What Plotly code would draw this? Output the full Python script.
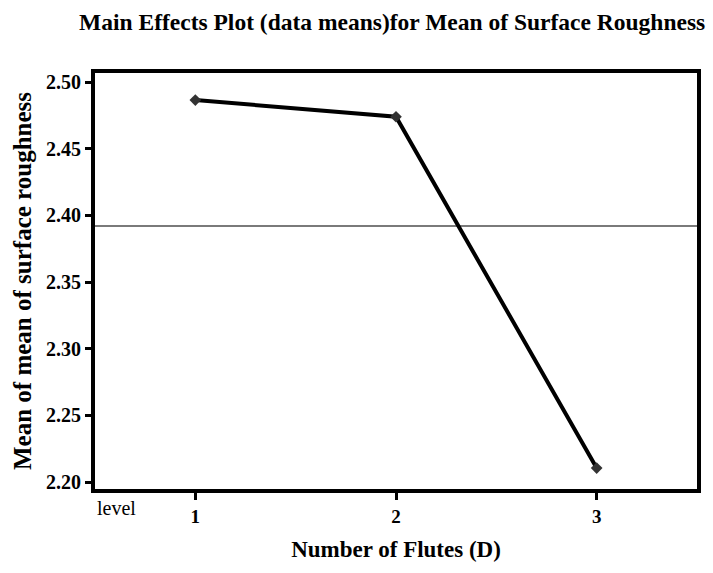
import plotly.graph_objects as go

levels = [1, 2, 3]
means = [2.4865, 2.474, 2.2105]
grand_mean = 2.392
y_ticks = [2.20, 2.25, 2.30, 2.35, 2.40, 2.45, 2.50]
x_tick_labels = ["1", "2", "3"]

title_text = "Main Effects Plot (data means)for Mean of Surface Roughness"
x_title = "Number of Flutes (D)"
y_title = "Mean of mean of surface roughness"

serif = "Liberation Serif"

fig = go.Figure()
fig.add_trace(go.Scatter(
    x=[0.5, 3.5], y=[grand_mean, grand_mean], mode="lines",
    line=dict(color="#7a7a7a", width=2), hoverinfo="skip", showlegend=False,
))
fig.add_trace(go.Scatter(
    x=levels, y=means, mode="lines+markers",
    line=dict(color="black", width=4),
    marker=dict(symbol="diamond", size=9, color="#333333"),
    showlegend=False,
))

fig.update_layout(
    width=713, height=573,
    margin=dict(l=95, r=13, t=73, b=84),
    paper_bgcolor="white", plot_bgcolor="white",
    title=dict(text="<b>" + title_text + "</b>", x=0.55, xanchor="center",
               y=0.962, yanchor="middle",
               font=dict(family=serif, size=23.5, color="black")),
    xaxis=dict(range=[0.5, 3.5], tickvals=levels, ticktext=x_tick_labels,
               showgrid=False, zeroline=False, showline=True, linecolor="black",
               linewidth=4, mirror=True, ticks="outside", ticklen=7, tickwidth=3,
               tickcolor="black",
               tickfont=dict(family=serif, size=19, color="black", weight="bold"),
               title=dict(text="<b>" + x_title + "</b>", standoff=16,
                          font=dict(family=serif, size=23, color="black"))),
    yaxis=dict(range=[2.1948, 2.5068], tickvals=y_ticks, tickformat=".2f",
               showgrid=False, zeroline=False, showline=True, linecolor="black",
               linewidth=4, mirror=True, ticks="outside", ticklen=6, tickwidth=3,
               tickcolor="black",
               tickfont=dict(family=serif, size=20, color="black", weight="bold"),
               title=dict(text="<b>" + y_title + "</b>", standoff=8,
                          font=dict(family=serif, size=25, color="black"))),
)

fig.add_annotation(
    text="level", x=0.5, xref="x", xanchor="left", y=0, yref="paper",
    yanchor="top", yshift=-6, showarrow=False,
    font=dict(family=serif, size=20, color="black"),
)

fig.write_html("out.html")
